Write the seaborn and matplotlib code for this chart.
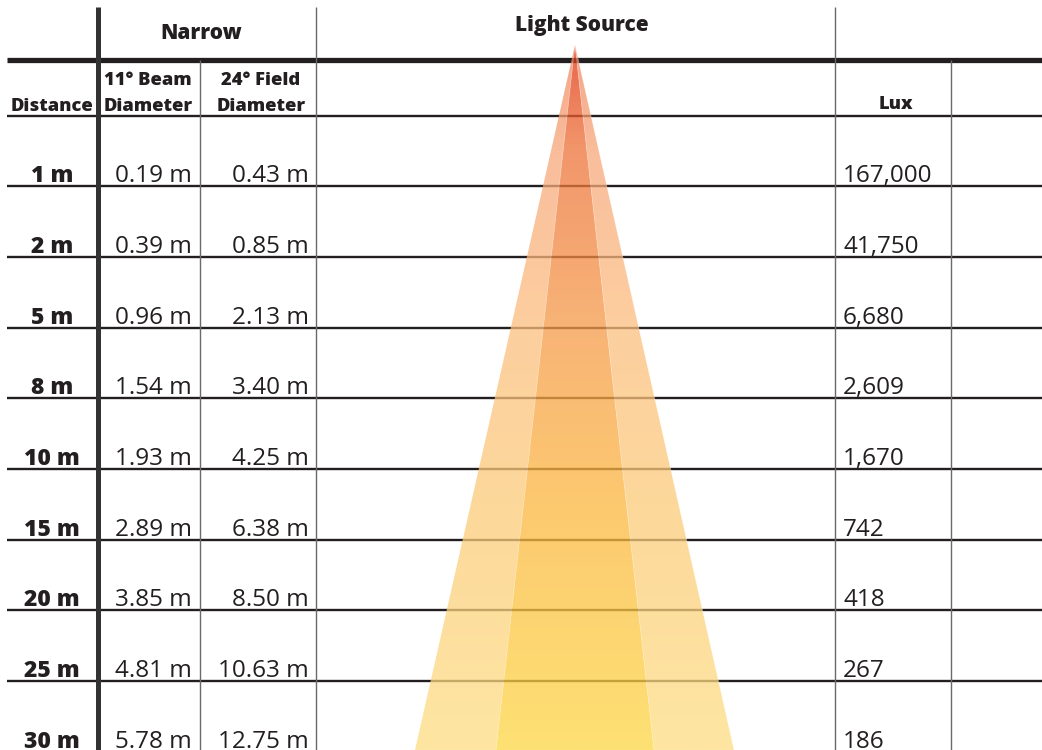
import numpy as np
import matplotlib
matplotlib.use("Agg")
import matplotlib.pyplot as plt
import seaborn as sns
from matplotlib.patches import Polygon
from matplotlib.colors import to_rgb

# ---------------- data ----------------
distances = ["1 m", "2 m", "5 m", "8 m", "10 m", "15 m", "20 m", "25 m", "30 m"]
beam_diameter = [0.19, 0.39, 0.96, 1.54, 1.93, 2.89, 3.85, 4.81, 5.78]
field_diameter = [0.43, 0.85, 2.13, 3.40, 4.25, 6.38, 8.50, 10.63, 12.75]
lux = [167000, 41750, 6680, 2609, 1670, 742, 418, 267, 186]
group_label = "Narrow"
beam_header = ["11° Beam", "Diameter"]
field_header = ["24° Field", "Diameter"]
source_label = "Light Source"
lux_header = "Lux"
distance_header = "Distance"

# ---------------- style ----------------
sns.set_theme(style="white")
plt.rcParams['font.family'] = ['Open Sans', 'DejaVu Sans']
INK = "#231f20"

W, H = 1042, 750
fig = plt.figure(figsize=(W / 100, H / 100), dpi=100)
ax = fig.add_axes([0, 0, 1, 1])
ax.set_xlim(0, W)
ax.set_ylim(H, 0)
ax.axis("off")

# ---------------- grid lines ----------------
row_top = 115.5
row_step = 70.7
row_lines = [row_top + row_step * (i + 1) for i in range(len(distances) - 1)]

ax.plot([7, W], [60, 60], color=INK, lw=3.8, solid_capstyle="butt", zorder=1)
ax.plot([7, W], [row_top, row_top], color=INK, lw=1.7, solid_capstyle="butt", zorder=1)
for y in row_lines:
    ax.plot([7, W], [y, y], color=INK, lw=1.7, solid_capstyle="butt", zorder=1)

ax.plot([97.5, 97.5], [7, H], color="#333333", lw=3.6, solid_capstyle="butt", zorder=1)
for x, y0 in [(199.5, 60), (315.5, 7), (835, 7), (951, 60)]:
    ax.plot([x, x], [y0, H], color="#6a6a6a", lw=1.0, solid_capstyle="butt", zorder=1)

# ---------------- light cone ----------------
apex = (575, 45)
out_l, in_l, in_r, out_r = 415, 496, 654, 734
alpha = 0.75

def make_grad(stops):
    ys = np.linspace(apex[1], H, 400)
    sy = [s[0] for s in stops]
    cols = np.array([to_rgb(s[1]) for s in stops])
    arr = np.zeros((len(ys), 1, 4))
    for k in range(3):
        c = np.interp(ys, sy, cols[:, k])
        arr[:, 0, k] = np.clip((c - (1 - alpha)) / alpha, 0, 1)
    arr[:, 0, 3] = alpha
    return arr

inner_stops = [(45, "#e8654c"), (150, "#f2966b"), (330, "#f8b476"), (505, "#fdc96f"), (750, "#fee173")]
outer_stops = [(45, "#f4a587"), (150, "#f9bd9c"), (330, "#fdcf9f"), (505, "#fdd89b"), (750, "#fee6a2")]

for poly_x, stops in [((out_l, in_l), outer_stops), ((in_l, in_r), inner_stops), ((in_r, out_r), outer_stops)]:
    poly = Polygon([apex, (poly_x[0], H), (poly_x[1], H)], closed=True,
                   facecolor="none", edgecolor="none")
    ax.add_patch(poly)
    im = ax.imshow(make_grad(stops), extent=(out_l, out_r, H, apex[1]),
                   origin="upper", aspect="auto", interpolation="bilinear", zorder=3)
    im.set_clip_path(poly)
    ax.plot([apex[0], poly_x[1]], [apex[1], H], color="white", lw=0.5, alpha=0.35, zorder=4)

ax.set_xlim(0, W)
ax.set_ylim(H, 0)

# ---------------- header texts ----------------
hdr = dict(color=INK, fontweight="heavy", ha="center", va="baseline", zorder=5)
ax.text(201, 39, group_label, fontsize=15, **hdr)
ax.text(582, 31, source_label, fontsize=15, **hdr)
ax.text(148, 85, beam_header[0], fontsize=13.2, **hdr)
ax.text(148, 111, beam_header[1], fontsize=13.2, **hdr)
ax.text(261, 85, field_header[0], fontsize=13.2, **hdr)
ax.text(261, 111, field_header[1], fontsize=13.2, **hdr)
ax.text(52, 111, distance_header, fontsize=13.2, **hdr)
ax.text(896, 109, lux_header, fontsize=13.2, **hdr)

# ---------------- rows ----------------
for i, d in enumerate(distances):
    base = row_top + row_step * (i + 1) - 4
    ax.text(52, base, d, fontsize=16.5, fontweight="heavy", color=INK,
            ha="center", va="baseline", zorder=5)
    ax.text(192, base, f"{beam_diameter[i]:.2f} m", fontsize=17.5, color=INK,
            ha="right", va="baseline", zorder=5)
    ax.text(309, base, f"{field_diameter[i]:.2f} m", fontsize=17.5, color=INK,
            ha="right", va="baseline", zorder=5)
    ax.text(843, base, f"{lux[i]:,}", fontsize=17.5, color=INK,
            ha="left", va="baseline", zorder=5)

fig.savefig("out.png", dpi=100)
